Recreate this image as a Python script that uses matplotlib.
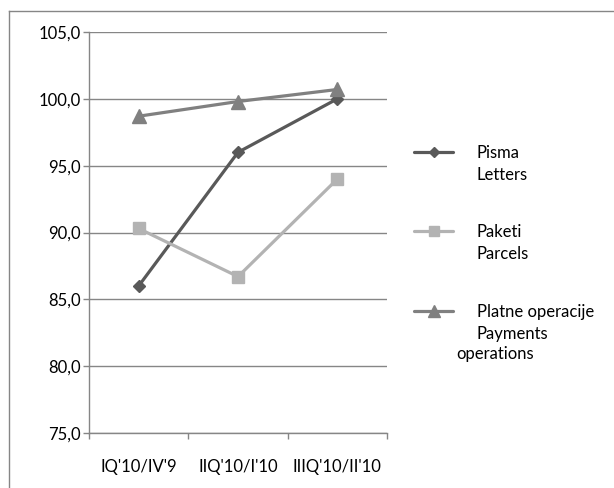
from matplotlib import pyplot as plt
from matplotlib.lines import Line2D
from matplotlib.ticker import FuncFormatter
import numpy as np

plt.rcParams['font.family'] = ['Lato', 'DejaVu Sans']

# data
categories = ["IQ'10/IV'9", "IIQ'10/I'10", "IIIQ'10/II'10"]
pisma = [86.0, 96.0, 100.0]
paketi = [90.3, 86.7, 94.0]
platne = [98.7, 99.8, 100.7]

series_labels = [
    ["Pisma", "Letters"],
    ["Paketi", "Parcels"],
    ["Platne operacije", "Payments"],
]
extra_label = "operations"

colors = ['#595959', '#b3b3b3', '#808080']
markers = ['D', 's', '^']
sizes = [6.5, 8.5, 9.5]
grid_color = '#868686'
fs = 12

W, H = 614, 488
fig = plt.figure(figsize=(W / 100, H / 100), dpi=100)

# outer chart border: only top and left edges show in the reference
bx, by = 8.5 / W, 1 - 10.5 / H
fig.lines.append(Line2D([bx, 1.01], [by, by], transform=fig.transFigure, color=grid_color, lw=1.0))
fig.lines.append(Line2D([bx, bx], [-0.01, by], transform=fig.transFigure, color=grid_color, lw=1.0))

ax = fig.add_axes([89 / W, (H - 433) / H, (387 - 89) / W, (433 - 32) / H])

x = np.arange(1, len(categories) + 1)
for vals, c, m, s in zip([pisma, paketi, platne], colors, markers, sizes):
    ax.plot(x, vals, color=c, lw=2.3, marker=m, markersize=s,
            markerfacecolor=c, markeredgecolor=c, zorder=3)

ax.set_xlim(0.5, len(categories) + 0.5)
ax.set_ylim(75, 105)
ax.set_yticks(np.arange(75, 105.1, 5))
ax.yaxis.set_major_formatter(FuncFormatter(lambda v, _: f"{v:.1f}".replace('.', ',')))
ax.grid(axis='y', color=grid_color, lw=1.0, zorder=1)

# category boundaries as major ticks, labels on minor ticks
ax.set_xticks(np.arange(0.5, len(categories) + 1, 1.0))
ax.set_xticklabels([])
ax.set_xticks(x, minor=True)
ax.set_xticklabels(categories, minor=True)
ax.tick_params(axis='x', which='major', length=4.5, color=grid_color, width=1.0, direction='out')
ax.tick_params(axis='x', which='minor', length=0, pad=19, labelsize=fs, labelcolor='black')
ax.tick_params(axis='y', length=4.5, color=grid_color, width=1.0, pad=1.5, labelsize=fs)

for side in ['top', 'right']:
    ax.spines[side].set_visible(False)
for side in ['left', 'bottom']:
    ax.spines[side].set_color(grid_color)
    ax.spines[side].set_linewidth(1.0)

# legend drawn by hand to mimic wrapped Excel labels
legend_y = [152, 231, 311]
for (l1, l2), c, m, s, y in zip(series_labels, colors, markers, sizes, legend_y):
    yf = 1 - y / H
    fig.lines.append(Line2D([414 / W, 453 / W], [yf, yf], transform=fig.transFigure,
                            color=c, lw=2.3, solid_capstyle='round'))
    fig.lines.append(Line2D([433.5 / W], [yf], transform=fig.transFigure,
                            color=c, marker=m, markersize=s * 0.85, lw=0))
    fig.text(477 / W, 1 - (y + 1) / H, l1, fontsize=fs, va='center', ha='left')
    fig.text(477 / W, 1 - (y + 23) / H, l2, fontsize=fs, va='center', ha='left')
fig.text(456 / W, 1 - 354 / H, extra_label, fontsize=fs, va='center', ha='left')

fig.savefig('out.png', dpi=100)
